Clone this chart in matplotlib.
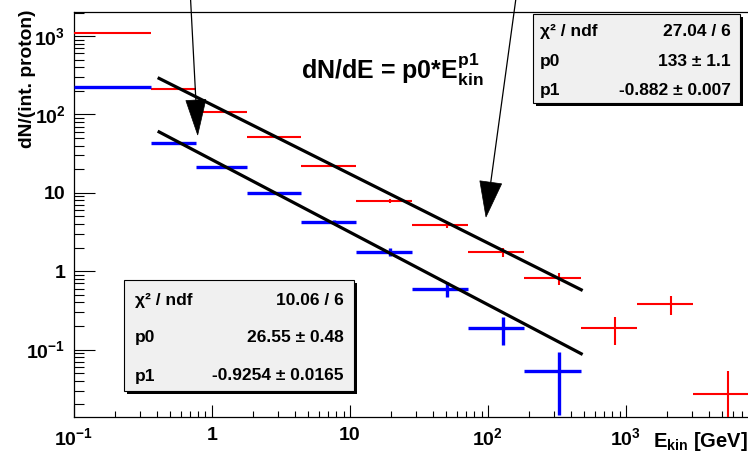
import numpy as np
import matplotlib
matplotlib.use('Agg')
import matplotlib.pyplot as plt
from matplotlib.patches import Rectangle, Polygon
from matplotlib.lines import Line2D
from matplotlib.ticker import LogLocator, FuncFormatter, NullFormatter

plt.rcParams['font.family'] = ['Liberation Sans', 'DejaVu Sans']
plt.rcParams['font.weight'] = 'bold'
plt.rcParams['mathtext.fontset'] = 'custom'
plt.rcParams['mathtext.rm'] = 'Liberation Sans:bold'
plt.rcParams['mathtext.bf'] = 'Liberation Sans:bold'
plt.rcParams['mathtext.it'] = 'Liberation Sans:bold'
plt.rcParams['mathtext.default'] = 'bf'

# ---------------- data ----------------
bin_lo = [0.1, 0.363, 0.769, 1.80, 4.45, 11.1, 28.3, 72.2, 184, 472, 1213, 3090]
bin_hi = [0.363, 0.769, 1.80, 4.45, 11.1, 28.3, 72.2, 184, 472, 1213, 3090, 7870]
e_mean = [0.227, 0.58, 1.29, 3.1, 7.7, 19.6, 50.6, 128, 330, 840, 2140, 5520]

red_y = [1082, 213, 108, 51.5, 22.0, 7.86, 3.88, 1.74, 0.811, 0.187, 0.378, 0.0269]
red_err = [8, 2, 1.5, 0.8, 0.4, 0.47, 0.32, 0.21, 0.145, 0.073, 0.098, 0.0265]

blue_y = [222, 43.5, 21.1, 9.87, 4.27, 1.76, 0.593, 0.187, 0.0538]
blue_err = [2, 0.8, 0.5, 0.3, 0.2, 0.2, 0.125, 0.073, 0.039]

red_fit_p0, red_fit_p1 = 133.0, -0.882
blue_fit_p0, blue_fit_p1 = 26.55, -0.9254
fit_range = (0.415, 475)

red_stats = [('χ² / ndf', '27.04 / 6'), ('p0', '133 ± 1.1'), ('p1', '-0.882 ± 0.007')]
blue_stats = [('χ² / ndf', '10.06 / 6'), ('p0', '26.55 ± 0.48'), ('p1', '-0.9254 ± 0.0165')]

xlim = (0.1, 7870)
ylim = (0.0138, 2030)

# ---------------- figure ----------------
W, H = 748, 459
fig = plt.figure(figsize=(W / 100, H / 100), dpi=100)
ax_l, ax_r, ax_t, ax_b = 73.8, 749.5, 12, 417
ax = fig.add_axes([ax_l / W, 1 - ax_b / H, (ax_r - ax_l) / W, (ax_b - ax_t) / H])
ax.set_xscale('log')
ax.set_yscale('log')
ax.set_xlim(*xlim)
ax.set_ylim(*ylim)


def draw_series(n, ys, errs, color, lw):
    x = np.array(e_mean[:n])
    lo = np.array(bin_lo[:n])
    hi = np.array(bin_hi[:n])
    ax.errorbar(x, ys, xerr=[x - lo, hi - x], yerr=errs, fmt='none',
                ecolor=color, elinewidth=lw, capsize=0, zorder=3)


draw_series(len(red_y), red_y, red_err, '#ff0000', 1.5)
draw_series(len(blue_y), blue_y, blue_err, '#0000ff', 2.4)

ef = np.geomspace(fit_range[0], fit_range[1], 50)
ax.plot(ef, red_fit_p0 * ef ** red_fit_p1, color='black', lw=2.3, zorder=4)
ax.plot(ef, blue_fit_p0 * ef ** blue_fit_p1, color='black', lw=2.3, zorder=4)


def fmt(v, pos):
    e = int(round(np.log10(v)))
    if e == 0:
        return '1'
    if e == 1:
        return '10'
    return r'$\mathbf{10^{%d}}$' % e


for axis in (ax.xaxis, ax.yaxis):
    axis.set_major_locator(LogLocator(base=10, numticks=20))
    axis.set_minor_locator(LogLocator(base=10, subs=np.arange(2, 10), numticks=20))
    axis.set_major_formatter(FuncFormatter(fmt))
    axis.set_minor_formatter(NullFormatter())

ax.tick_params(axis='x', which='major', direction='in', length=8.6, width=0.8, pad=7, labelsize=14)
ax.tick_params(axis='x', which='minor', direction='in', length=4.3, width=0.8)
ax.tick_params(axis='y', which='major', direction='in', length=15, width=0.8, pad=6, labelsize=14)
ax.tick_params(axis='y', which='minor', direction='in', length=7.2, width=0.8)
for lab in ax.get_xticklabels() + ax.get_yticklabels():
    lab.set_fontweight('bold')
for s in ('left', 'bottom', 'top'):
    ax.spines[s].set_linewidth(0.9)
ax.spines['right'].set_visible(False)

# axis titles
fig.text(27 / W, 1 - 79 / H, 'dN/(int. proton)', rotation=90, fontsize=13.8,
         fontweight='bold', ha='center', va='center')
fig.text(748 / W, 1 - 447 / H, r'$\mathbf{E}_{\mathbf{kin}}$ [GeV]', fontsize=14.5,
         fontweight='bold', ha='right', va='baseline')

# formula
fig.text(301 / W, 1 - 79 / H, r'dN/dE = p0*$\mathbf{E}_{\mathbf{kin}}^{\mathbf{p1}}$',
         fontsize=18, fontweight='bold', ha='left', va='baseline')


# stats boxes
def stats_box(x0, y0, x1, y1, rows, row_y, tx0, tx1):
    sh = 3
    fig.add_artist(Rectangle(((x0 + sh) / W, 1 - (y1 + sh) / H), (x1 - x0) / W, (y1 - y0) / H,
                             transform=fig.transFigure, facecolor='black', edgecolor='none', zorder=5))
    fig.add_artist(Rectangle((x0 / W, 1 - y1 / H), (x1 - x0) / W, (y1 - y0) / H,
                             transform=fig.transFigure, facecolor='#f0f0f0', edgecolor='black',
                             linewidth=0.8, zorder=6))
    for (lab, val), ry in zip(rows, row_y):
        fig.text(tx0 / W, 1 - ry / H, lab, fontsize=12.5, fontweight='bold', ha='left',
                 va='center', zorder=7)
        fig.text(tx1 / W, 1 - ry / H, val, fontsize=12.5, fontweight='bold', ha='right',
                 va='center', zorder=7)


stats_box(533, 14, 740, 103, red_stats, [31.7, 61.7, 90.5], 540, 731)
stats_box(124.3, 280, 354, 390.5, blue_stats, [300.7, 337.7, 376], 135, 344)


# arrows
def arrow(tail, tip, hl, hw):
    tx, ty = tail
    px, py = tip
    d = np.array([px - tx, py - ty], dtype=float)
    L = np.hypot(*d)
    u = d / L
    n = np.array([-u[1], u[0]])
    base = np.array([px, py]) - hl * u
    fig.add_artist(Line2D([tx / W, base[0] / W], [1 - ty / H, 1 - base[1] / H],
                          transform=fig.transFigure, color='black', lw=0.9, zorder=8))
    pts = [(px, py), tuple(base + hw * n), tuple(base - hw * n)]
    fig.add_artist(Polygon([(a / W, 1 - b / H) for a, b in pts], closed=True,
                           transform=fig.transFigure, facecolor='black', edgecolor='black',
                           lw=0.5, zorder=8))


arrow((190.5, -2), (197.7, 135), 35, 10)
arrow((516, -2), (486, 217), 35, 11)

fig.savefig('out.png', dpi=100)
